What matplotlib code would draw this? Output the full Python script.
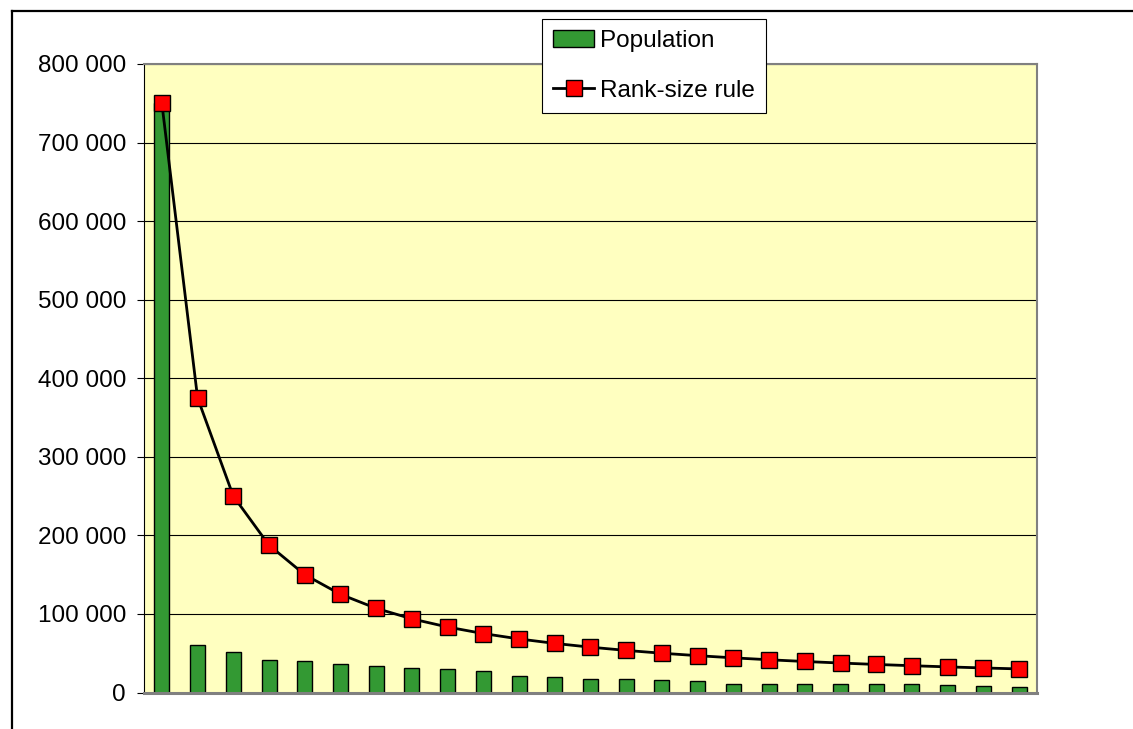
import matplotlib.pyplot as plt
import matplotlib.ticker as mticker
from matplotlib.lines import Line2D
import numpy as np

plt.rcParams['font.family'] = ['Liberation Sans', 'DejaVu Sans']

# city population by rank, and the rank-size estimate (largest / rank)
rank = list(range(1, 26))
population = [750000, 60000, 51000, 41000, 39500, 35700, 34000, 30600, 30300, 28000,
              21600, 19900, 17800, 16600, 16400, 14800, 11000, 11000, 10700, 10600,
              10200, 10200, 9700, 7800, 7400]
rank_size = [750000, 375000, 250000, 187500, 150000, 125000, 107143, 93750, 83333, 75000,
             68182, 62500, 57692, 53571, 50000, 46875, 44118, 41667, 39474, 37500,
             35714, 34091, 32609, 31250, 30000]

W, H = 1133, 729
fig = plt.figure(figsize=(W / 100, H / 100), dpi=100)
ax = fig.add_axes([144 / W, 1 - 692.5 / H, (1037 - 144) / W, (692.5 - 64) / H])
ax.set_facecolor('#FFFFC0')

bars = ax.bar(rank, population, width=0.42, color='#339933', edgecolor='black',
              linewidth=1.0, zorder=2, label='Population')
line, = ax.plot(rank, rank_size, color='black', linewidth=2.0, marker='s',
                markersize=11.5, markerfacecolor='#FF0000', markeredgecolor='black',
                markeredgewidth=1.0, zorder=3, label='Rank-size rule')

ax.set_xlim(0.5, 25.5)
ax.set_ylim(0, 800000)
ax.yaxis.set_major_locator(mticker.MultipleLocator(100000))
ax.yaxis.set_major_formatter(mticker.FuncFormatter(
    lambda v, p: f'{int(v):,}'.replace(',', ' ')))
ax.grid(axis='y', color='black', linewidth=0.8, zorder=1)
ax.set_axisbelow(True)
ax.set_xticks([])
ax.tick_params(axis='y', direction='out', length=5, width=0.8, pad=8,
               labelsize=17.5, colors='black')

for side in ('top', 'right'):
    ax.spines[side].set_color('#808080')
    ax.spines[side].set_linewidth(1.5)
ax.spines['bottom'].set_color('#808080')
ax.spines['bottom'].set_linewidth(2.2)
ax.spines['left'].set_color('black')
ax.spines['left'].set_linewidth(0.8)

leg = fig.legend([bars, line], ['Population', 'Rank-size rule'],
                 loc='upper left', bbox_to_anchor=(542 / W, 1 - 19 / H),
                 fontsize=17.5, frameon=True, fancybox=False, edgecolor='black',
                 framealpha=1, labelspacing=1.15, handlelength=1.7,
                 handletextpad=0.25, borderpad=0.45, borderaxespad=0)
leg.get_frame().set_linewidth(0.8)

# outer chart frame (top and left edges)
fig.add_artist(Line2D([12 / W, 1.0], [1 - 11 / H, 1 - 11 / H], color='black',
                      linewidth=1.6, transform=fig.transFigure))
fig.add_artist(Line2D([12 / W, 12 / W], [0, 1 - 11 / H], color='black',
                      linewidth=1.6, transform=fig.transFigure))

fig.savefig('out.png', dpi=100)
